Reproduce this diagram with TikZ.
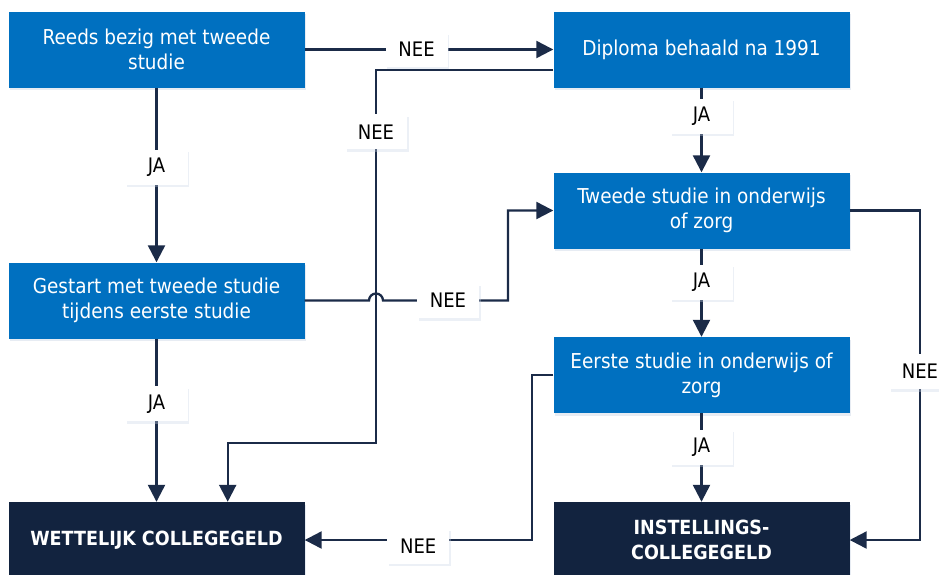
\documentclass[tikz,border=0pt]{standalone}
\usepackage{fontspec}
\setmainfont{DejaVu Sans Condensed}
\usetikzlibrary{%
  calc,arrows.meta,shadows}
\definecolor{vraagblauw}{HTML}{0070C0}
\definecolor{donkerblauw}{HTML}{12233F}
\definecolor{lijnkleur}{HTML}{1B2B48}
\definecolor{schaduw}{HTML}{C9D4E4}
\tikzset {>={Triangle[length=17pt,width=17pt]}}
\tikzset{
  vraag/.style={rectangle, fill=vraagblauw, text=white,
    minimum width=296pt, minimum height=76pt, align=center,
    font=\fontsize{20.5}{25}\selectfont,
    drop shadow={shadow xshift=1.5pt, shadow yshift=-2.5pt,
      fill=schaduw, opacity=.45}},
  uitkomst/.style={vraag, fill=donkerblauw,
    font=\bfseries\fontsize{19.5}{25}\selectfont},
  antw/.style={rectangle, fill=white, text=black,
    minimum width=62pt, minimum height=35pt,
    font=\fontsize{20}{22}\selectfont,
    drop shadow={shadow xshift=1.5pt, shadow yshift=-2.5pt,
      fill=schaduw, opacity=.35}},
  pijl/.style={->, draw=lijnkleur, line width=2.3pt}
}

\begin{document}
\begin{tikzpicture}[x=1pt,y=-1pt]
\useasboundingbox (0,0) rectangle (939,574);
\clip (0,0) rectangle (939,574);
\node[vraag] (reeds) at (156.5,49.5) {Reeds bezig met tweede\\studie};
\node[vraag] (diploma) at (701.5,49.5) {Diploma behaald na 1991};
\node[vraag] (tweede) at (701.5,210.5) {Tweede studie in onderwijs\\of zorg};
\node[vraag] (gestart) at (156.5,300.5) {Gestart met tweede studie\\tijdens eerste studie};
\node[vraag] (eerste) at (701.5,375) {Eerste studie in onderwijs of\\zorg};
\node[uitkomst] (wettelijk) at (156.5,540) {WETTELIJK COLLEGEGELD};
\node[uitkomst] (instelling) at (701.5,540) {INSTELLINGS-\\COLLEGEGELD};
% linkerkolom
\draw[pijl] (reeds) -- node[antw,pos=.455] {JA} (gestart);
\draw[pijl] (gestart) -- node[antw,pos=.40] {JA} (wettelijk);
\draw[pijl] (reeds) -- node[antw,pos=.45] {NEE} (diploma);
\draw[pijl] ([yshift=-20.5pt]diploma.west) -- (376,70)
  -- node[antw,pos=.166] {NEE} (376,442.7) -- (227.7,442.7)
  -- ([xshift=71.2pt]wettelijk.north);
\draw[pijl] (gestart.east) -- (369,300.5)
  arc[start angle=180, end angle=360, radius=7]
  -- node[antw,pos=.52] {NEE} (508,300.5) |- (tweede.west);
% rechterkolom
\draw[pijl] (diploma) -- node[antw,pos=.34] {JA} (tweede);
\draw[pijl] (tweede) -- node[antw,pos=.38] {JA} (eerste);
\draw[pijl] (eerste) -- node[antw,pos=.384] {JA} (instelling);
\draw[pijl] (tweede.east) -- (920,210.5)
  -- node[antw,pos=.489] {NEE} (920,540) -- (instelling.east);
\draw[pijl] (eerste.west) -- (531.7,375)
  |- node[antw,pos=.75,yshift=-6pt] {NEE} (wettelijk.east);
\end{tikzpicture}
\end{document}
